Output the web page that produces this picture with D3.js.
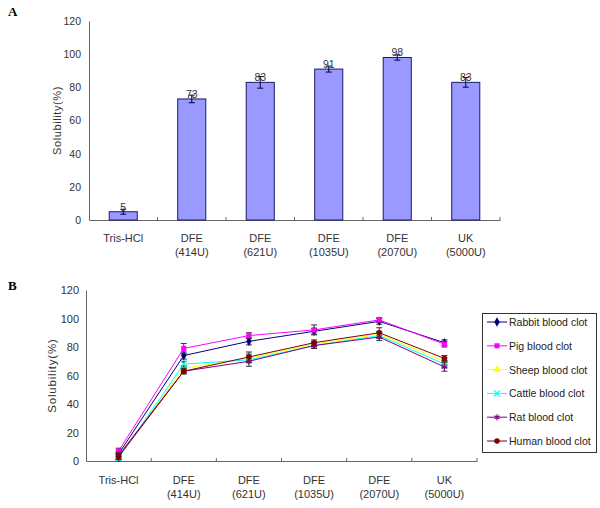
<!DOCTYPE html>
<html><head><meta charset="utf-8">
<script src="https://cdn.jsdelivr.net/npm/d3@7"></script>
<style>
body{margin:0;background:#fff;}
svg{display:block;font-family:"Liberation Sans",Arial,sans-serif;}
</style></head>
<body><svg id="c" width="600" height="508"></svg>
<script>
// ---- Data ----
const categories = ["Tris-HCl", "DFE (414U)", "DFE (621U)", "DFE (1035U)", "DFE (2070U)", "UK (5000U)"];
const yTicks = [0, 20, 40, 60, 80, 100, 120];

// Panel A
const barValues = [5, 73, 83, 91, 98, 83];
const barErrors = [1.5, 2.3, 3.5, 1.8, 1.6, 2.9];

// Panel B
const seriesNames = ["Rabbit blood clot", "Pig blood clot", "Sheep blood clot", "Cattle blood clot", "Rat blood clot", "Human blood clot"];
const rabbit = [5, 74, 84, 91, 98, 83];
const pig    = [7, 79, 88, 92, 99, 82];
const sheep  = [3, 65, 72, 82, 89, 70];
const cattle = [2, 68, 71, 81, 88, 68];
const rat    = [4, 63, 70, 81, 87, 66];
const human  = [3, 63, 73, 83, 90, 72];
const rabbitErr = [2, 2.5, 2.5, 2, 2, 2];
const pigErr    = [2, 3.5, 2, 3.5, 1.5, 2];
const sheepErr  = [2, 2, 3, 2, 2, 2.5];
const cattleErr = [2, 2, 2, 2, 2, 2.5];
const ratErr    = [2, 2, 3.5, 2, 2.5, 3];
const humanErr  = [2, 1.5, 3.5, 2, 3.5, 2];

// ---- Styles ----
const seriesColors = ["#000080", "#ff00ff", "#ffff00", "#00ffff", "#800080", "#800000"];
const seriesSymbols = [d3.symbolDiamond, d3.symbolSquare, d3.symbolTriangle, d3.symbolTimes, d3.symbolAsterisk, d3.symbolCircle];
const strokeSymbols = [false, false, false, true, true, false];
const symbolSizes = [26, 26, 26, 26, 26, 24];

const svg = d3.select("#c");
const textColor = "#333";
const axisColor = "#666";

function drawXLabels(g, x, y0) {
  categories.forEach(c => {
    const parts = c.split(" ");
    const t = g.append("text").attr("x", x(c)).attr("y", y0)
      .attr("text-anchor", "middle").attr("font-size", 11).attr("fill", textColor);
    parts.forEach((p, i) => {
      t.append("tspan").attr("x", x(c)).attr("dy", i === 0 ? 0 : 14).text(p);
    });
  });
}

// ---------------- Panel A ----------------
{
  const left = 89, right = 500, top = 21, bottom = 220;
  const x = d3.scaleBand().domain(categories).range([left, right]).paddingInner(0.59).paddingOuter(0.295);
  const xc = c => x(c) + x.bandwidth() / 2;
  const y = d3.scaleLinear().domain([0, 120]).range([bottom, top]);

  svg.append("text").attr("x", 8).attr("y", 16).attr("font-family", "Liberation Serif, Times New Roman, serif")
    .attr("font-weight", "bold").attr("font-size", 13).text("A");

  const yAx = svg.append("g").attr("transform", `translate(${left},0)`)
    .call(d3.axisLeft(y).tickValues(yTicks).tickSize(0).tickPadding(8));
  yAx.select(".domain").attr("stroke", axisColor);
  yAx.selectAll("text").attr("font-size", 10.5).attr("fill", textColor).attr("font-family", "Liberation Sans, Arial, sans-serif");

  const xAx = svg.append("g").attr("transform", `translate(0,${bottom})`)
    .call(d3.axisBottom(x).tickSize(0).tickFormat(""));
  xAx.select(".domain").attr("stroke", axisColor);
  const step = x.step();
  d3.range(1, categories.length + 1).forEach(i => {
    const bx = left + i * step;
    svg.append("line").attr("x1", bx).attr("x2", bx).attr("y1", bottom).attr("y2", bottom - 3).attr("stroke", axisColor);
  });

  svg.append("g").selectAll("rect").data(categories).join("rect")
    .attr("x", c => x(c)).attr("width", x.bandwidth())
    .attr("y", (c, i) => y(barValues[i])).attr("height", (c, i) => y(0) - y(barValues[i]))
    .attr("fill", "#9999ff").attr("stroke", "#1a1a66").attr("stroke-width", 1);

  const eb = svg.append("g").attr("stroke", "#000040").attr("stroke-width", 1);
  categories.forEach((c, i) => {
    const cx = xc(c), hi = y(barValues[i] + barErrors[i]), lo = y(barValues[i] - barErrors[i]);
    eb.append("line").attr("x1", cx).attr("x2", cx).attr("y1", hi).attr("y2", lo);
    eb.append("line").attr("x1", cx - 3).attr("x2", cx + 3).attr("y1", hi).attr("y2", hi);
    eb.append("line").attr("x1", cx - 3).attr("x2", cx + 3).attr("y1", lo).attr("y2", lo);
  });

  svg.append("g").selectAll("text").data(categories).join("text")
    .attr("x", c => xc(c)).attr("y", (c, i) => y(barValues[i]) - 1)
    .attr("text-anchor", "middle").attr("font-size", 10.5).attr("fill", textColor)
    .text((c, i) => barValues[i]);

  drawXLabels(svg, xc, 242);

  svg.append("text").attr("transform", `translate(61,${(top + bottom) / 2}) rotate(-90)`)
    .attr("text-anchor", "middle").attr("font-size", 11).attr("fill", textColor)
    .attr("letter-spacing", 0.6).text("Solubility(%)");
}

// ---------------- Panel B ----------------
{
  const left = 86, right = 477, top = 290, bottom = 461;
  const x = d3.scalePoint().domain(categories).range([left, right]).padding(0.5);
  const y = d3.scaleLinear().domain([0, 120]).range([bottom, top]);

  svg.append("text").attr("x", 8).attr("y", 290).attr("font-family", "Liberation Serif, Times New Roman, serif")
    .attr("font-weight", "bold").attr("font-size", 13).text("B");

  const yAx = svg.append("g").attr("transform", `translate(${left},0)`)
    .call(d3.axisLeft(y).tickValues(yTicks).tickSize(0).tickPadding(7));
  yAx.select(".domain").attr("stroke", axisColor);
  yAx.selectAll("text").attr("font-size", 11).attr("fill", textColor).attr("font-family", "Liberation Sans, Arial, sans-serif");

  const xAx = svg.append("g").attr("transform", `translate(0,${bottom})`)
    .call(d3.axisBottom(x).tickSize(0).tickFormat(""));
  xAx.select(".domain").attr("stroke", axisColor);
  const step = x.step();
  d3.range(1, categories.length + 1).forEach(i => {
    const bx = left + i * step;
    svg.append("line").attr("x1", bx).attr("x2", bx).attr("y1", bottom).attr("y2", bottom - 3).attr("stroke", axisColor);
  });

  drawXLabels(svg, x, 484);

  svg.append("text").attr("transform", `translate(56,${(top + bottom) / 2}) rotate(-90)`)
    .attr("text-anchor", "middle").attr("font-size", 11.5).attr("fill", textColor)
    .attr("letter-spacing", 0.8).text("Solubility(%)");

  const allSeries = [rabbit, pig, sheep, cattle, rat, human];
  const allErr = [rabbitErr, pigErr, sheepErr, cattleErr, ratErr, humanErr];
  const line = d3.line().x((d, i) => x(categories[i])).y(d => y(d));

  allSeries.forEach((vals, s) => {
    const g = svg.append("g");
    g.append("path").datum(vals).attr("d", line).attr("fill", "none")
      .attr("stroke", seriesColors[s]).attr("stroke-width", 1);
    vals.forEach((v, i) => {
      const cx = x(categories[i]), hi = y(v + allErr[s][i]), lo = y(v - allErr[s][i]);
      g.append("line").attr("x1", cx).attr("x2", cx).attr("y1", hi).attr("y2", lo).attr("stroke", "#333");
      g.append("line").attr("x1", cx - 3).attr("x2", cx + 3).attr("y1", hi).attr("y2", hi).attr("stroke", "#333");
      g.append("line").attr("x1", cx - 3).attr("x2", cx + 3).attr("y1", lo).attr("y2", lo).attr("stroke", "#333");
    });
    const sym = d3.symbol().type(seriesSymbols[s]).size(symbolSizes[s]);
    g.selectAll(".m").data(vals).join("path")
      .attr("transform", (d, i) => `translate(${x(categories[i])},${y(d)})`)
      .attr("d", sym)
      .attr("fill", strokeSymbols[s] ? "none" : seriesColors[s])
      .attr("stroke", seriesColors[s]).attr("stroke-width", strokeSymbols[s] ? 1.2 : 0);
  });

  // Legend
  const lg = svg.append("g");
  lg.append("rect").attr("x", 482.5).attr("y", 313.5).attr("width", 114).attr("height", 139)
    .attr("fill", "#fff").attr("stroke", "#333").attr("stroke-width", 1);
  seriesNames.forEach((n, s) => {
    const ly = 322 + s * 23.8;
    lg.append("line").attr("x1", 487).attr("x2", 507).attr("y1", ly).attr("y2", ly)
      .attr("stroke", seriesColors[s]).attr("stroke-width", 1);
    const sym = d3.symbol().type(seriesSymbols[s]).size(symbolSizes[s]);
    lg.append("path").attr("transform", `translate(497,${ly})`).attr("d", sym)
      .attr("fill", strokeSymbols[s] ? "none" : seriesColors[s])
      .attr("stroke", seriesColors[s]).attr("stroke-width", strokeSymbols[s] ? 1.2 : 0);
    lg.append("text").attr("x", 509).attr("y", ly + 4).attr("font-size", 10.5).attr("fill", "#222")
      .attr("letter-spacing", 0).text(n);
  });
}
</script></body></html>
